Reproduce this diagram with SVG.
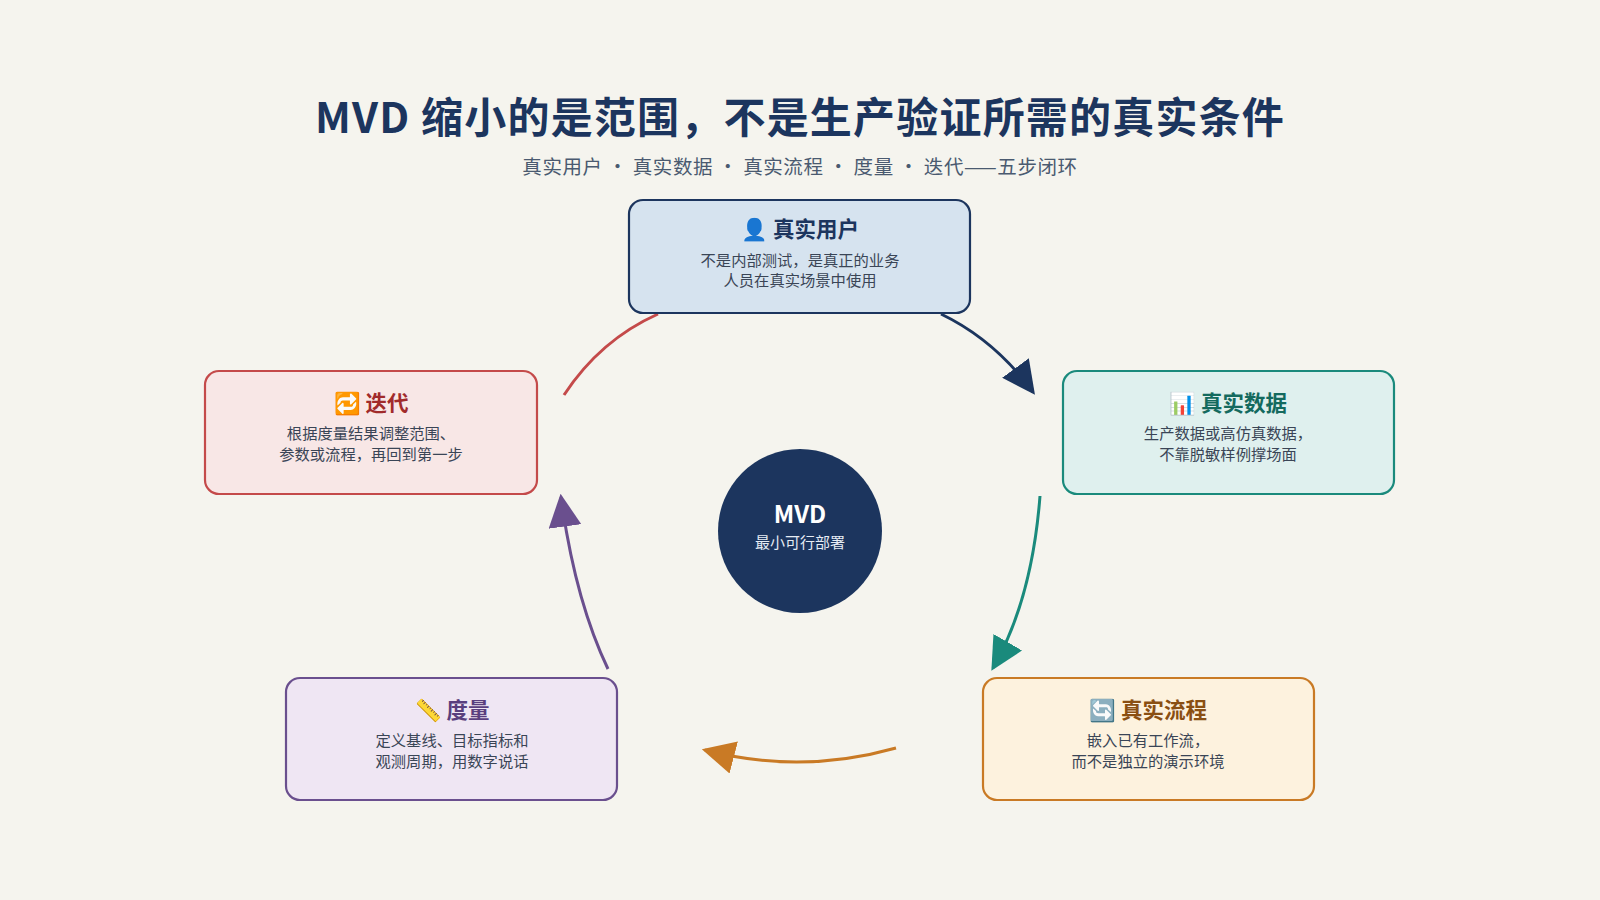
<svg xmlns="http://www.w3.org/2000/svg" width="1600" height="900" viewBox="0 0 1600 900">
<style>
text{font-family:"Noto Sans CJK SC","Noto Sans",sans-serif;text-anchor:middle}
.t{font-size:21.5px;font-weight:700}
.d{font-size:15.3px;fill:#3a4556}
.box{stroke-width:2.2}
.c{fill:none;stroke-width:3}
</style>
<defs>
<marker id="aN" viewBox="0 0 10 10" refX="9" refY="5" markerWidth="11" markerHeight="11" orient="auto"><path d="M0,0L10,5L0,10z" fill="#1c355e"/></marker>
<marker id="aT" viewBox="0 0 10 10" refX="9" refY="5" markerWidth="11" markerHeight="11" orient="auto"><path d="M0,0L10,5L0,10z" fill="#1a8a7c"/></marker>
<marker id="aO" viewBox="0 0 10 10" refX="9" refY="5" markerWidth="11" markerHeight="11" orient="auto"><path d="M0,0L10,5L0,10z" fill="#c97a25"/></marker>
<marker id="aP" viewBox="0 0 10 10" refX="9" refY="5" markerWidth="11" markerHeight="11" orient="auto"><path d="M0,0L10,5L0,10z" fill="#6a4f8e"/></marker>
</defs>
<rect width="1600" height="900" fill="#f5f4ee"/>
<text x="800" y="133" font-size="42" font-weight="700" fill="#1c355e" letter-spacing="1.2">MVD 缩小的是范围，不是生产验证所需的真实条件</text>
<text x="800" y="174" font-size="19.5" fill="#4a5a70" letter-spacing="0.6">真实用户 · 真实数据 · 真实流程 · 度量 · 迭代——五步闭环</text>
<g id="connectors">
<path class="c" stroke="#1c355e" d="M941,314 Q995,340 1033,392" marker-end="url(#aN)"/>
<path class="c" stroke="#1a8a7c" d="M1040,496 Q1032,600 993,668" marker-end="url(#aT)"/>
<path class="c" stroke="#c97a25" d="M896,748 Q800,775 705,750" marker-end="url(#aO)"/>
<path class="c" stroke="#6a4f8e" d="M608,669 Q575,600 561,497" marker-end="url(#aP)"/>
<path class="c" stroke="#c44a4a" d="M564,395 Q600,340 658,314"/>
</g>
<g id="n-user"><rect class="box" x="629" y="200" width="341" height="113" rx="14" fill="#d6e3ef" stroke="#1c355e"/>
<text class="t" x="800" y="237" fill="#1c355e">👤 真实用户</text>
<text class="d" x="800" y="266">不是内部测试，是真正的业务</text><text class="d" x="800" y="286">人员在真实场景中使用</text></g>
<g id="n-data"><rect class="box" x="1063" y="371" width="331" height="123" rx="14" fill="#dff0ee" stroke="#1a8a7c"/>
<text class="t" x="1228" y="411" fill="#146a5e">📊 真实数据</text>
<text class="d" x="1228" y="439">生产数据或高仿真数据，</text><text class="d" x="1228" y="460">不靠脱敏样例撑场面</text></g>
<g id="n-flow"><rect class="box" x="983" y="678" width="331" height="122" rx="14" fill="#fdf2de" stroke="#c97a25"/>
<text class="t" x="1148" y="718" fill="#8a4f12">🔄 真实流程</text>
<text class="d" x="1148" y="746">嵌入已有工作流，</text><text class="d" x="1148" y="767">而不是独立的演示环境</text></g>
<g id="n-measure"><rect class="box" x="286" y="678" width="331" height="122" rx="14" fill="#efe6f3" stroke="#6a4f8e"/>
<text class="t" x="452" y="718" fill="#5a3f7e">📏 度量</text>
<text class="d" x="452" y="746">定义基线、目标指标和</text><text class="d" x="452" y="767">观测周期，用数字说话</text></g>
<g id="n-iter"><rect class="box" x="205" y="371" width="332" height="123" rx="14" fill="#f8e7e6" stroke="#c44a4a"/>
<text class="t" x="371" y="411" fill="#a12b2b">🔁 迭代</text>
<text class="d" x="371" y="439">根据度量结果调整范围、</text><text class="d" x="371" y="460">参数或流程，再回到第一步</text></g>
<g id="n-center"><circle cx="800" cy="531" r="82" fill="#1c355e"/>
<text x="800" y="523" font-size="24" font-weight="700" fill="#fff">MVD</text>
<text x="800" y="548" font-size="15" fill="#e6ecf4">最小可行部署</text></g>
</svg>
